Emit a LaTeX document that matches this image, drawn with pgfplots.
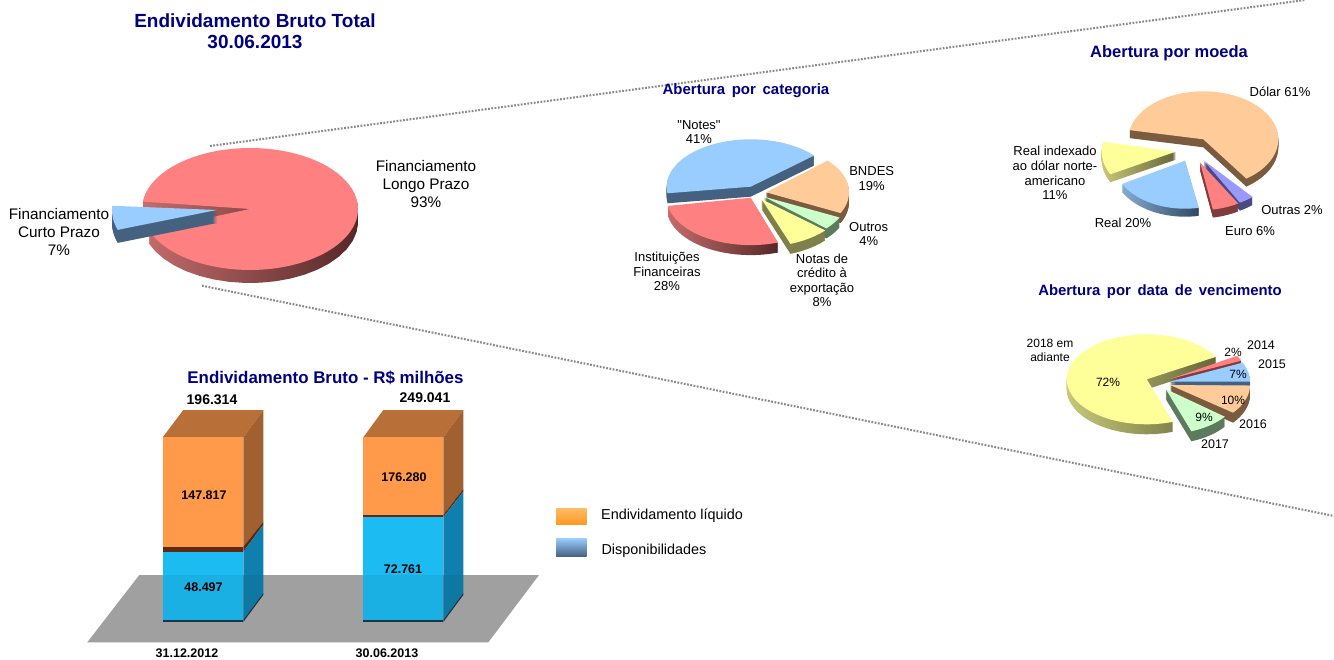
\documentclass[border=0pt]{standalone}
\usepackage{pgfplots}
\usepackage{fontspec}
\pgfplotsset{compat=1.18}
\setmainfont{Liberation Sans}
\newfontfamily\plainf{Liberation Sans}
\definecolor{navyt}{HTML}{000080}
\definecolor{pred}{HTML}{FF8080}
\definecolor{pblue}{HTML}{99CCFF}
\definecolor{ppeach}{HTML}{FFCC99}
\definecolor{pyellow}{HTML}{FFFF99}
\definecolor{pgreen}{HTML}{CCFFCC}
\definecolor{ppurple}{HTML}{9999FF}
\definecolor{wblue}{HTML}{44617F}
\definecolor{wpeach}{HTML}{7A5B3F}
\definecolor{wyellow}{HTML}{7F7F4C}
\definecolor{wgreen}{HTML}{5C7A5C}
\definecolor{wpurple}{HTML}{4A4A80}
\definecolor{wred}{HTML}{7F3C3C}
\definecolor{wra}{HTML}{C46C6C}
\definecolor{wrb}{HTML}{7A3A3A}
\definecolor{wrc}{HTML}{552828}
\definecolor{wba}{HTML}{86ABD2}
\definecolor{wbb}{HTML}{2F4860}
\definecolor{wya}{HTML}{C8C878}
\definecolor{wyb}{HTML}{66663C}
\definecolor{orfront}{HTML}{FF9A4A}
\definecolor{orside}{HTML}{A06030}
\definecolor{ortop}{HTML}{B87038}
\definecolor{blfront}{HTML}{1CBBF2}
\definecolor{blside}{HTML}{0F80AD}
\definecolor{band}{HTML}{5E2A10}
\definecolor{basec}{HTML}{1A3A50}
\definecolor{floorc}{HTML}{AAAAAA}
\definecolor{lorT}{HTML}{FFBB66}
\definecolor{lorB}{HTML}{FF9922}
\definecolor{dotc}{HTML}{8A8A8A}
% cx cy rx ry a0 a1 topcolour wallstyle depth
\newcommand{\slice}[9]{%
  \pgfplotsinvokeforeach{1,...,#9}{%
    \addplot[draw=none,#8,domain=#5:#6,samples=41,variable=\t,forget plot]
      ({#1+#3*cos(\t)},{#2+##1-#4*sin(\t)}) -- (axis cs:#1,#2+##1) -- cycle;
  }%
  \addplot[draw=none,fill=#7,domain=#5:#6,samples=81,variable=\t,forget plot]
    ({#1+#3*cos(\t)},{#2-#4*sin(\t)}) -- (axis cs:#1,#2) -- cycle;
}
\newcommand{\poly}[2]{\addplot[draw=none,#1,forget plot] coordinates {#2} -- cycle;}
\newcommand{\lab}[5]{\node[align=center,inner sep=0pt,text=black,font=\fontsize{#3}{#4}\selectfont] at (axis cs:#1,#2) {#5};}
\newcommand{\blab}[5]{\node[align=center,inner sep=0pt,text=black,font=\fontsize{#3}{#4}\selectfont\bfseries] at (axis cs:#1,#2) {#5};}
\newcommand{\ttl}[5]{\node[align=center,inner sep=0pt,text=navyt,font=\fontsize{#3}{#4}\selectfont\bfseries] at (axis cs:#1,#2) {#5};}
\begin{document}
\begin{tikzpicture}
\path[use as bounding box] (0,0) rectangle (1334pt,660pt);
\begin{axis}[at={(0,0)},anchor=south west,scale only axis,width=1334pt,height=660pt,
  xmin=0,xmax=1334,ymin=0,ymax=660,y dir=reverse,hide axis,clip=false,no markers]
% guide lines
\addplot[color=dotc,line width=2.1pt,dash pattern=on 1.8pt off 1.5pt,forget plot] coordinates {(210,146) (1305,0)};
\addplot[color=dotc,line width=2.1pt,dash pattern=on 1.8pt off 1.5pt,forget plot] coordinates {(202,285.7) (1334,516)};
% main pie
\slice{250}{209}{108}{61}{-159.4}{173}{pred}{left color=wra,middle color=wrb,right color=wrc}{13}
\slice{217}{210}{105}{61}{176}{199}{pblue}{fill=wblue}{13}
% category pie
\slice{750.7}{186.7}{84}{47.4}{41}{188}{pblue}{fill=wblue}{10}
\slice{750.7}{197.7}{84}{47.4}{190}{289}{pred}{left color=wra,middle color=wrb,right color=wrc}{10}
\slice{766}{192.3}{83}{47.4}{-26}{42}{ppeach}{fill=wpeach}{10}
\slice{764}{196.7}{84}{47.4}{-42}{-26}{pgreen}{fill=wgreen}{10}
\slice{761.7}{199.3}{84}{47.4}{-70}{-41}{pyellow}{fill=wyellow}{10}
% currency pie
\slice{1203.3}{139.3}{75}{48}{-55}{169}{ppeach}{fill=wpeach}{8}
\slice{1175.7}{151.7}{74}{48}{168}{208}{pyellow}{left color=wya,right color=wyb}{8}
\slice{1185}{160.7}{72}{48}{209}{281}{pblue}{left color=wba,right color=wbb}{8}
\slice{1204}{160.7}{74}{48}{299}{311}{ppurple}{fill=wpurple}{8}
\slice{1200}{162.3}{74}{48}{280}{301}{pred}{fill=wred}{8}
% maturity pie
\slice{1146.7}{379.3}{80}{45}{30}{289}{pyellow}{left color=wya,right color=wyb}{10}
\slice{1170}{379}{78}{45}{24}{31}{pred}{fill=wred}{4}
\slice{1170}{381.7}{80}{45}{0}{25}{pblue}{fill=wblue}{4}
\slice{1170}{385}{80}{45}{-38}{-1}{ppeach}{fill=wpeach}{10}
\slice{1165.7}{389}{75}{45}{-70}{-38}{pgreen}{fill=wgreen}{10}
% floor
\poly{fill=floorc}{(139.3,575) (539,575) (488.3,642.3) (87.3,642.3)}
% bar 1
\poly{fill=ortop}{(162.7,437.3) (243.3,437.3) (263.3,410) (183.3,410)}
\poly{fill=orfront}{(162.7,437.3) (243.3,437.3) (243.3,546.7) (162.7,546.7)}
\poly{fill=band}{(162.7,546.7) (243.3,546.7) (243.3,551.7) (162.7,551.7)}
\poly{fill=blfront}{(162.7,551.7) (243.3,551.7) (243.3,620) (162.7,620)}
\poly{fill=basec}{(162.7,620) (243.3,620) (243.3,622) (162.7,622)}
\poly{fill=orside}{(243.3,437.3) (263.3,410) (263.3,521.7) (243.3,546.7)}
\poly{fill=band}{(243.3,546.7) (263.3,521.7) (263.3,525) (243.3,551.7)}
\poly{fill=blside}{(243.3,551.7) (263.3,525) (263.3,593) (243.3,620)}
\poly{fill=basec}{(243.3,620) (263.3,593) (263.3,595) (243.3,622)}
% bar 2
\poly{fill=ortop}{(363.3,437.3) (443.3,437.3) (463.3,410) (383.3,410)}
\poly{fill=orfront}{(363.3,437.3) (443.3,437.3) (443.3,515) (363.3,515)}
\poly{fill=band}{(363.3,515) (443.3,515) (443.3,517.3) (363.3,517.3)}
\poly{fill=blfront}{(363.3,517.3) (443.3,517.3) (443.3,620) (363.3,620)}
\poly{fill=basec}{(363.3,620) (443.3,620) (443.3,622) (363.3,622)}
\poly{fill=orside}{(443.3,437.3) (463.3,410) (463.3,489) (443.3,515)}
\poly{fill=band}{(443.3,515) (463.3,489) (463.3,491.7) (443.3,517.3)}
\poly{fill=blside}{(443.3,517.3) (463.3,491.7) (463.3,593) (443.3,620)}
\poly{fill=basec}{(443.3,620) (463.3,593) (463.3,595) (443.3,622)}
% floor veil
\poly{fill=black,fill opacity=0.06}{(139.3,575) (539,575) (488.3,642.3) (87.3,642.3)}
% legend swatches
\poly{top color=lorT,bottom color=lorB}{(556,508.3) (586.7,508.3) (586.7,524.3) (556,524.3)}
\poly{top color=pblue,bottom color=wblue}{(556,538.3) (586.7,538.3) (586.7,556.7) (556,556.7)}
% titles
\ttl{255}{31.5}{19}{21}{Endividamento Bruto Total\\30.06.2013}
\ttl{746}{91}{15}{16}{Abertura\hspace{2.5pt} por\hspace{2.5pt} categoria}
\ttl{1169}{53}{16.5}{17}{Abertura por moeda}
\ttl{1160}{292}{14.9}{16}{Abertura\hspace{2.5pt} por\hspace{2.5pt} data\hspace{2.5pt} de\hspace{2.5pt} vencimento}
\ttl{325.5}{378}{16.9}{19}{Endividamento Bruto - R\$ milhões}
% main pie labels
\lab{426}{184}{15.3}{18}{Financiamento\\Longo Prazo\\93\%}
\lab{59}{232}{15.3}{18}{Financiamento\\Curto Prazo\\7\%}
% category labels
\lab{699}{132}{13}{14.5}{{\plainf "Notes"}\\41\%}
\lab{871.7}{178.5}{13}{15}{BNDES\\19\%}
\lab{868.7}{234}{13}{14.5}{Outros\\4\%}
\lab{822}{280.5}{13}{14.5}{Notas de\\crédito à\\exportação\\8\%}
\lab{667}{271.5}{13}{14.5}{Instituições\\Financeiras\\28\%}
% currency labels
\lab{1280}{92}{13}{15}{Dólar 61\%}
\lab{1055}{173}{13}{14.7}{Real indexado\\ao dólar norte-\\americano\\11\%}
\lab{1123}{223}{13}{15}{Real 20\%}
\lab{1250}{231}{13}{15}{Euro 6\%}
\lab{1292}{210}{13}{15}{Outras 2\%}
% maturity labels
\lab{1050}{350.5}{12}{13.5}{2018 em\\adiante}
\lab{1108}{382}{12}{14}{72\%}
\lab{1233}{352}{12}{14}{2\%}
\lab{1261}{345}{12.5}{14}{2014}
\lab{1272}{364}{12.5}{14}{2015}
\lab{1238}{374}{12}{14}{7\%}
\lab{1233}{400}{12}{14}{10\%}
\lab{1204}{417}{12}{14}{9\%}
\lab{1253}{424}{12.5}{14}{2016}
\lab{1215}{444}{12.5}{14}{2017}
% bar labels
\blab{212}{400}{14}{15}{196.314}
\blab{425}{398}{14}{15}{249.041}
\blab{204}{495}{12.5}{14}{147.817}
\blab{203.5}{587}{12.5}{14}{48.497}
\blab{404}{477}{12.5}{14}{176.280}
\blab{403}{569}{12.5}{14}{72.761}
\blab{187}{653.5}{12.5}{14}{31.12.2012}
\blab{387}{653.5}{12.5}{14}{30.06.2013}
% legend text
\lab{672}{515.5}{14.4}{15}{Endividamento líquido}
\lab{654}{551}{14.4}{15}{Disponibilidades}
\end{axis}
\end{tikzpicture}
\end{document}
